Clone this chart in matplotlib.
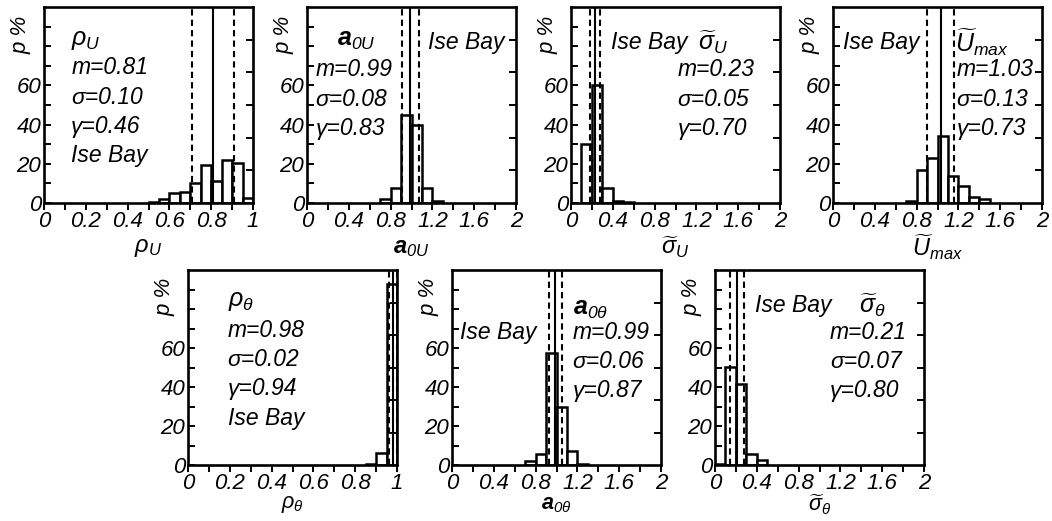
import numpy as np
import matplotlib
matplotlib.use('Agg')
import matplotlib.pyplot as plt

plt.rcParams['font.family'] = ['Liberation Sans', 'DejaVu Sans']
plt.rcParams['font.style'] = 'italic'
plt.rcParams['mathtext.fontset'] = 'custom'
plt.rcParams['mathtext.rm'] = 'Liberation Sans:italic'
plt.rcParams['mathtext.it'] = 'Liberation Sans:italic'
plt.rcParams['mathtext.bf'] = 'Liberation Sans:bold'

# histogram data (bin left edge, percentage)
rho_u_left = [0.50, 0.55, 0.60, 0.65, 0.70, 0.75, 0.80, 0.85, 0.90, 0.95]
rho_u_pct = [0.7, 1.9, 5.3, 5.8, 10.3, 19.3, 11.2, 22.0, 20.5, 2.4]
a0u_left = [0.7, 0.8, 0.9, 1.0, 1.1, 1.2]
a0u_pct = [2.1, 7.8, 45.0, 40.0, 7.8, 1.2]
sig_u_left = [0.1, 0.2, 0.3, 0.4, 0.5]
sig_u_pct = [30.3, 60.4, 7.7, 1.2, 0.7]
umax_left = [0.7, 0.8, 0.9, 1.0, 1.1, 1.2, 1.3, 1.4]
umax_pct = [1.2, 17.0, 23.0, 34.4, 13.7, 8.5, 3.3, 1.9]
rho_t_left = [0.85, 0.90, 0.95]
rho_t_pct = [0.5, 6.0, 93.0]
a0t_left = [0.7, 0.8, 0.9, 1.0, 1.1, 1.2]
a0t_pct = [2.0, 5.5, 57.5, 30.0, 7.0, 0.7]
sig_t_left = [0.0, 0.1, 0.2, 0.3, 0.4]
sig_t_pct = [0.5, 50.4, 41.4, 5.5, 2.6]

# statistics: mean, std, gamma
means = [0.81, 0.99, 0.23, 1.03, 0.98, 0.99, 0.21]
stds = [0.10, 0.08, 0.05, 0.13, 0.02, 0.06, 0.07]
gammas = [0.46, 0.83, 0.70, 0.73, 0.94, 0.87, 0.80]

names = [r'$\rho_U$', r'$\mathbf{a}_{0U}$', r'$\widetilde{\sigma}_U$',
         r'$\widetilde{U}_{max}$', r'$\rho_\theta$', r'$\mathbf{a}_{0\theta}$',
         r'$\widetilde{\sigma}_\theta$']

W, H = 1052, 521
# pixel boxes (left, top, right, bottom)
boxes = [(44, 7, 253, 203), (307, 7, 516, 203), (571, 7, 780, 203), (833, 7, 1042, 203),
         (188, 270, 397, 465), (452, 270, 661, 465), (715, 270, 924, 465)]

# layout per panel: data, bin width, xmax, name pos, bay pos, stats x, stats y0
panels = [
    dict(left=rho_u_left, pct=rho_u_pct, bw=0.05, xmax=1, name=(0.13, 0.83), bay=None, sx=0.13, sy=0.69),
    dict(left=a0u_left, pct=a0u_pct, bw=0.1, xmax=2, name=(0.145, 0.83), bay=(0.58, 0.82), sx=0.04, sy=0.68),
    dict(left=sig_u_left, pct=sig_u_pct, bw=0.1, xmax=2, name=(0.61, 0.82), bay=(0.19, 0.82), sx=0.51, sy=0.68),
    dict(left=umax_left, pct=umax_pct, bw=0.1, xmax=2, name=(0.585, 0.82), bay=(0.048, 0.82), sx=0.59, sy=0.68),
    dict(left=rho_t_left, pct=rho_t_pct, bw=0.05, xmax=1, name=(0.19, 0.84), bay=None, sx=0.19, sy=0.69),
    dict(left=a0t_left, pct=a0t_pct, bw=0.1, xmax=2, name=(0.577, 0.80), bay=(0.04, 0.68), sx=0.577, sy=0.68),
    dict(left=sig_t_left, pct=sig_t_pct, bw=0.1, xmax=2, name=(0.69, 0.82), bay=(0.19, 0.82), sx=0.55, sy=0.68),
]

fs = 16.5
tfs = 16
fig = plt.figure(figsize=(W / 100, H / 100), dpi=100)

for i, p in enumerate(panels):
    l, t, r, b = boxes[i]
    ax = fig.add_axes([l / W, 1 - b / H, (r - l) / W, (b - t) / H])
    ax.bar(p['left'], p['pct'], width=p['bw'], align='edge',
           facecolor='white', edgecolor='black', linewidth=1.8, zorder=2)
    m, s = means[i], stds[i]
    ax.axvline(m, color='black', lw=1.5, zorder=3)
    for v in (m - s, m + s):
        ax.axvline(v, color='black', lw=1.5, ls=(0, (3, 2)), zorder=3)

    ax.set_xlim(0, p['xmax'])
    ax.set_ylim(0, 100)
    if p['xmax'] == 1:
        ax.set_xticks(np.arange(0, 1.01, 0.2))
        ax.set_xticks(np.arange(0.1, 1.0, 0.2), minor=True)
        ax.set_xticklabels(['0', '0.2', '0.4', '0.6', '0.8', '1'])
    else:
        ax.set_xticks(np.arange(0, 2.01, 0.4))
        ax.set_xticks(np.arange(0.2, 2.0, 0.4), minor=True)
        ax.set_xticklabels(['0', '0.4', '0.8', '1.2', '1.6', '2'])
    ax.set_yticks([0, 20, 40, 60])
    ax.set_yticks([10, 30, 50, 70, 80, 90], minor=True)
    ax.tick_params(axis='x', which='both', direction='out', length=5, width=1.4,
                   labelsize=tfs, pad=1)
    ax.tick_params(axis='y', which='both', direction='in', length=5, width=1.4,
                   labelsize=tfs, pad=2)
    for sp in ax.spines.values():
        sp.set_linewidth(1.9)

    ax2 = ax.twinx()
    ax2.set_ylim(0, 6)
    ax2.set_yticks([1, 2, 3, 4, 5])
    ax2.tick_params(axis='y', direction='in', length=5, width=1.4, labelright=False)
    for sp in ax2.spines.values():
        sp.set_visible(False)

    ax.text(-0.11, 0.86, 'p %', transform=ax.transAxes, rotation=90,
            ha='center', va='center', fontsize=tfs)
    if i < 4:
        ax.text(0.5, -0.225, names[i], transform=ax.transAxes, ha='center',
                va='center', fontsize=17)
    else:
        ax.text(0.5, -0.205, names[i], transform=ax.transAxes, ha='center',
                va='center', fontsize=15.5)

    nx, ny = p['name']
    ax.text(nx, ny, names[i], transform=ax.transAxes, ha='left', va='center', fontsize=18)
    lines = [f'm={m:.2f}', 'σ=%.2f' % s, f'γ={gammas[i]:.2f}']
    if p['bay'] is None:
        lines.append('Ise Bay')
    else:
        bx, by = p['bay']
        ax.text(bx, by, 'Ise Bay', transform=ax.transAxes, ha='left', va='center', fontsize=fs)
    for k, txt in enumerate(lines):
        ax.text(p['sx'], p['sy'] - 0.15 * k, txt, transform=ax.transAxes,
                ha='left', va='center', fontsize=fs)

fig.savefig('out.png', dpi=100)
